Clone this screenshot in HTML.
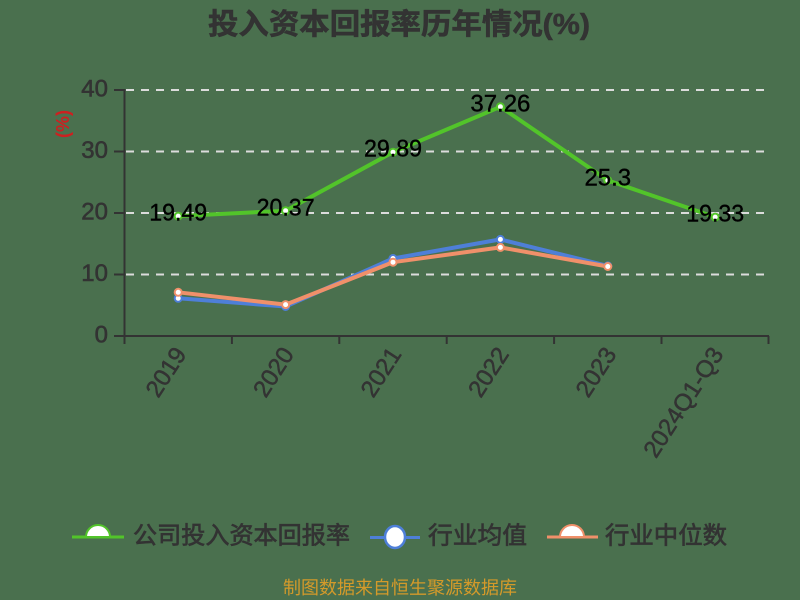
<!DOCTYPE html>
<html><head><meta charset="utf-8"><style>
html,body{margin:0;padding:0;background:#4a704e;}
svg{display:block;}
text{font-family:"Liberation Sans","Noto Sans CJK SC",sans-serif;}
</style></head><body>
<svg width="800" height="600" viewBox="0 0 800 600" xmlns="http://www.w3.org/2000/svg">
<rect width="800" height="600" fill="#4a704e"/>
<!-- title -->
<text x="208" y="25" font-size="29" font-weight="bold" fill="#333" stroke="#333" stroke-width="0.6" dominant-baseline="central" textLength="382" lengthAdjust="spacingAndGlyphs">投入资本回报率历年情况(%)</text>
<!-- grid -->
<g stroke="#dcdcdc" stroke-width="2" stroke-dasharray="8,7">
<line x1="126" y1="90" x2="769" y2="90"/>
<line x1="126" y1="151.5" x2="769" y2="151.5"/>
<line x1="126" y1="213" x2="769" y2="213"/>
<line x1="126" y1="274.5" x2="769" y2="274.5"/>
</g>
<!-- axes -->
<g stroke="#333" stroke-width="2">
<line x1="124.5" y1="89" x2="124.5" y2="337"/>
<line x1="124" y1="336" x2="769" y2="336"/>
<line x1="114" y1="90" x2="124" y2="90"/>
<line x1="114" y1="151.5" x2="124" y2="151.5"/>
<line x1="114" y1="213" x2="124" y2="213"/>
<line x1="114" y1="274.5" x2="124" y2="274.5"/>
<line x1="114" y1="336" x2="124" y2="336"/>
<line x1="124.5" y1="336" x2="124.5" y2="344"/>
<line x1="231.9" y1="336" x2="231.9" y2="344"/>
<line x1="339.3" y1="336" x2="339.3" y2="344"/>
<line x1="446.7" y1="336" x2="446.7" y2="344"/>
<line x1="554.1" y1="336" x2="554.1" y2="344"/>
<line x1="661.5" y1="336" x2="661.5" y2="344"/>
<line x1="768.5" y1="336" x2="768.5" y2="344"/>
</g>
<!-- y labels -->
<g font-size="24" fill="#333" stroke="#333" stroke-width="0.6" text-anchor="end" dominant-baseline="central">
<text x="108" y="89">40</text>
<text x="108" y="150.5">30</text>
<text x="108" y="212">20</text>
<text x="108" y="273.5">10</text>
<text x="108" y="335">0</text>
</g>
<text x="63" y="124" font-size="18" font-weight="bold" fill="#cc2020" text-anchor="middle" dominant-baseline="central" transform="rotate(-90 63 124)">(%)</text>
<!-- x labels -->
<g font-size="24" fill="#333" stroke="#333" stroke-width="0.5" text-anchor="end" dominant-baseline="central">
<text x="181" y="350" transform="rotate(-57 181 350)">2019</text>
<text x="288.5" y="350" transform="rotate(-57 288.5 350)">2020</text>
<text x="396" y="350" transform="rotate(-57 396 350)">2021</text>
<text x="503.5" y="350" transform="rotate(-57 503.5 350)">2022</text>
<text x="611" y="350" transform="rotate(-57 611 350)">2023</text>
<text x="718" y="350" transform="rotate(-57 718 350)">2024Q1-Q3</text>
</g>
<!-- blue series -->
<polyline fill="none" stroke="#4e7fd8" stroke-width="4" stroke-linejoin="round" points="178.2,298.3 285.6,306.5 393,258.5 500.4,239.4 607.8,265.9"/>
<!-- orange series -->
<polyline fill="none" stroke="#f0906a" stroke-width="4" stroke-linejoin="round" points="178.2,292.3 285.6,304.6 393,262.2 500.4,247.4 607.8,266.5"/>
<g fill="#fff" stroke="#4e7fd8" stroke-width="2">
<circle cx="178.2" cy="298.3" r="3.5"/><circle cx="285.6" cy="306.5" r="3.5"/><circle cx="393" cy="258.5" r="3.5"/><circle cx="500.4" cy="239.4" r="3.5"/><circle cx="607.8" cy="265.9" r="3.5"/>
</g>
<g fill="#fff" stroke="#f0906a" stroke-width="2">
<circle cx="178.2" cy="292.3" r="3.5"/><circle cx="285.6" cy="304.6" r="3.5"/><circle cx="393" cy="262.2" r="3.5"/><circle cx="500.4" cy="247.4" r="3.5"/><circle cx="607.8" cy="266.5" r="3.5"/>
</g>
<!-- green series -->
<polyline fill="none" stroke="#52c42a" stroke-width="4" stroke-linejoin="round" points="178.2,216.1 285.6,210.7 393,152.2 500.4,106.8 607.8,180.4 715.2,217.1"/>
<g fill="#fff" stroke="#52c42a" stroke-width="2">
<circle cx="178.2" cy="216.1" r="3.5"/><circle cx="285.6" cy="210.7" r="3.5"/><circle cx="393" cy="152.2" r="3.5"/><circle cx="500.4" cy="106.8" r="3.5"/><circle cx="607.8" cy="180.4" r="3.5"/><circle cx="715.2" cy="217.1" r="3.5"/>
</g>
<!-- data labels -->
<g font-size="24" fill="#000" stroke="#000" stroke-width="0.4" text-anchor="middle" dominant-baseline="central">
<text x="178.2" y="213" textLength="58" lengthAdjust="spacingAndGlyphs">19.49</text>
<text x="285.6" y="208" textLength="58" lengthAdjust="spacingAndGlyphs">20.37</text>
<text x="393" y="149" textLength="58" lengthAdjust="spacingAndGlyphs">29.89</text>
<text x="500.4" y="104" textLength="60" lengthAdjust="spacingAndGlyphs">37.26</text>
<text x="607.8" y="178">25.3</text>
<text x="715.2" y="214" textLength="58" lengthAdjust="spacingAndGlyphs">19.33</text>
</g>
<!-- legend -->
<line x1="72" y1="537" x2="124" y2="537" stroke="#52c42a" stroke-width="3"/>
<path d="M86,537 A12,12 0 0 1 110,537 Z" fill="#fff" stroke="#52c42a" stroke-width="2"/>
<text x="133" y="536" font-size="24" fill="#333" stroke="#333" stroke-width="0.7" dominant-baseline="central" textLength="217" lengthAdjust="spacingAndGlyphs">公司投入资本回报率</text>
<line x1="370" y1="537.5" x2="420" y2="537.5" stroke="#4e7fd8" stroke-width="3"/>
<ellipse cx="395" cy="537" rx="10" ry="11" fill="#fff" stroke="#4e7fd8" stroke-width="2.5"/>
<text x="428" y="536" font-size="24" fill="#333" stroke="#333" stroke-width="0.7" dominant-baseline="central" textLength="99" lengthAdjust="spacingAndGlyphs">行业均值</text>
<line x1="547" y1="537" x2="598" y2="537" stroke="#f0906a" stroke-width="3"/>
<path d="M560,537 A12,12 0 0 1 584,537 Z" fill="#fff" stroke="#f0906a" stroke-width="2"/>
<text x="605" y="536" font-size="24" fill="#333" stroke="#333" stroke-width="0.7" dominant-baseline="central" textLength="122" lengthAdjust="spacingAndGlyphs">行业中位数</text>
<!-- source -->
<text x="400" y="588" font-size="18" fill="#d49a2a" text-anchor="middle" dominant-baseline="central" textLength="234" lengthAdjust="spacingAndGlyphs">制图数据来自恒生聚源数据库</text>
</svg>
</body></html>
